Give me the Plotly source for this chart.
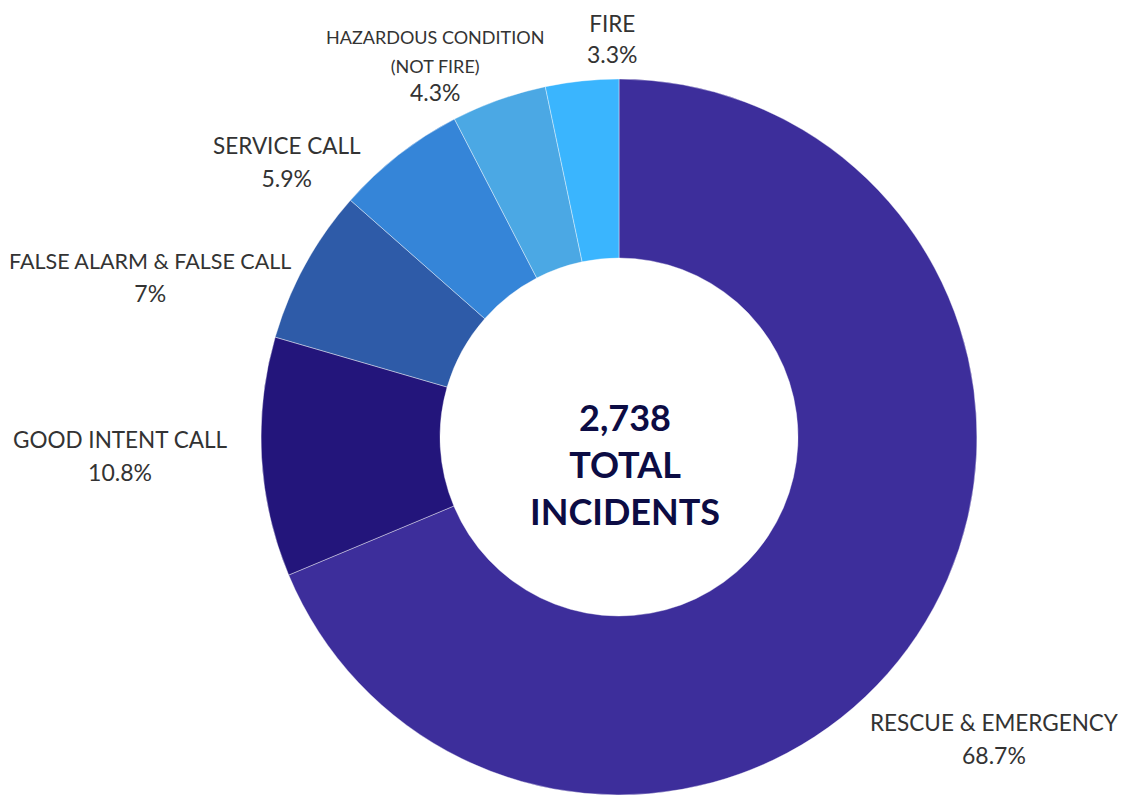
import math
import plotly.graph_objects as go

categories = ["RESCUE & EMERGENCY", "GOOD INTENT CALL", "FALSE ALARM & FALSE CALL",
              "SERVICE CALL", "HAZARDOUS CONDITION<br>(NOT FIRE)", "FIRE"]
percents = [68.7, 10.8, 7.0, 5.9, 4.3, 3.3]
pct_labels = ["68.7%", "10.8%", "7%", "5.9%", "4.3%", "3.3%"]
colors = ["#3d2e9b", "#23157b", "#2e5ba8", "#3585d8", "#4ba8e4", "#3ab5fe"]
total_incidents = "2,738"

W, H = 1126, 795
ML, MR, MT, MB = 0, 0, 71, 8
CX, CY, R = 611, 429, 358

# style: per-label pixel nudges away from the default anchor point
label_shift = [(68, -97), (-130, 2), (-145, -19), (-104, -17), (-60, 22), (32, 30)]
name_size = [22.5, 22.5, 21.5, 22.5, 18, 22.5]
pct_size = [23, 23, 23, 23, 23, 23]
line_size = [25, 25, 25, 25, 22, 24]

fig = go.Figure()
fig.add_trace(go.Pie(
    labels=categories, values=percents, sort=False, direction="clockwise",
    rotation=0, hole=0.5, textinfo="none", hoverinfo="label+percent",
    marker=dict(colors=colors, line=dict(color="white", width=0.4)),
    domain=dict(x=[(CX - R) / W, (CX + R) / W], y=[0, 1]),
    showlegend=False,
))

ph = H - MT - MB
annotations = []
cum = 0.0
tot = sum(percents)
for i, v in enumerate(percents):
    mid = (cum + v / 2) / tot * 2 * math.pi
    cum += v
    px = CX + (R + 12) * math.sin(mid)
    py = CY - (R + 12) * math.cos(mid)
    dx, dy = label_shift[i]
    txt = (f"<span style='font-size:{name_size[i]}px'>{categories[i]}</span><br>"
           f"<span style='font-size:{pct_size[i]}px'>{pct_labels[i]}</span>")
    annotations.append(dict(
        x=(px - ML) / W, y=(H - MB - py) / ph, xref="paper", yref="paper",
        text=txt, showarrow=False, xanchor="center", yanchor="middle",
        xshift=dx, yshift=dy, align="center",
        font=dict(family="Lato, Open Sans, sans-serif", size=line_size[i], color="#333333"),
    ))

annotations.append(dict(
    x=(CX - ML) / W, y=(H - MB - CY) / ph, xref="paper", yref="paper",
    text=f"<b>{total_incidents}<br>TOTAL<br>INCIDENTS</b>", showarrow=False,
    xanchor="center", yanchor="middle", align="center", yshift=-27, xshift=6,
    font=dict(family="Lato, Open Sans, sans-serif", size=36, color="#0c0c44"),
))

fig.update_layout(
    width=W, height=H, margin=dict(l=ML, r=MR, t=MT, b=MB),
    paper_bgcolor="white", plot_bgcolor="white",
    annotations=annotations,
)
fig.write_html("out.html")
